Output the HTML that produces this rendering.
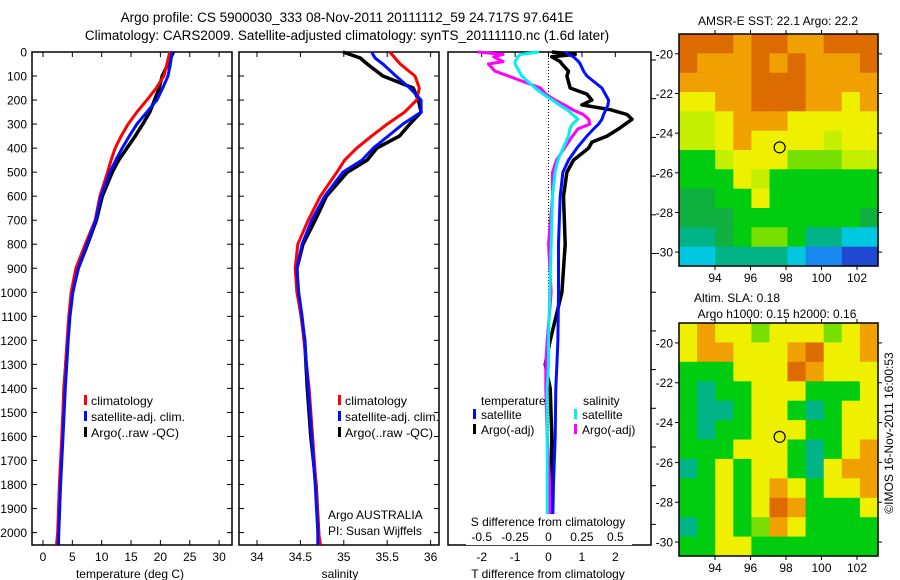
<!DOCTYPE html>
<html><head><meta charset="utf-8"><style>
body{margin:0;background:#fff;}
svg{display:block;font-family:"Liberation Sans",sans-serif;}
</style></head><body>
<svg id="c" width="900" height="580" viewBox="0 0 900 580" xmlns="http://www.w3.org/2000/svg">
<text x="347" y="22" font-size="13.5" text-anchor="middle">Argo profile: CS 5900030_333 08-Nov-2011 20111112_59 24.717S 97.641E</text>
<text x="347" y="40" font-size="13.5" text-anchor="middle">Climatology: CARS2009. Satellite-adjusted climatology: synTS_20111110.nc (1.6d later)</text>
<g id="g"></g>
</svg>
<script>
// ---- data ----
const depthsT = [0,50,100,150,200,250,300,350,400,450,500,600,700,800,900,1000,1100,1200,1400,1600,1800,2000,2050];
const tempClim = [21.6,21.1,20.6,19.3,17.7,16.0,14.5,13.3,12.3,11.6,11.0,9.7,8.9,7.2,5.6,4.8,4.4,4.1,3.6,3.2,2.8,2.5,2.3];
const tempSat  = [22.0,21.7,21.3,20.4,19.4,17.7,16.0,14.7,13.5,12.4,11.4,9.9,9.0,7.5,6.0,5.1,4.6,4.3,3.8,3.4,3.0,2.7,2.6];
const tempArgo = [22.2,21.3,20.3,19.8,19.0,18.2,17.0,15.7,14.3,12.9,11.8,10.1,9.1,7.6,6.0,5.0,4.5,4.2,3.6,3.3,2.9,2.6,2.6];
const depthsS = [0,25,50,100,150,200,250,300,350,400,450,500,600,700,800,900,1000,1100,1200,1400,1600,1800,2000,2050];
const salClim = [35.53,35.59,35.65,35.82,35.87,35.84,35.70,35.50,35.32,35.15,35.01,34.92,34.73,34.59,34.47,34.44,34.46,34.51,34.54,34.60,34.64,34.68,34.71,34.73];
const salSat  = [35.32,35.36,35.45,35.60,35.76,35.89,35.89,35.68,35.51,35.34,35.21,34.99,34.78,34.63,34.52,34.46,34.48,34.52,34.55,34.59,34.63,34.67,34.70,34.70];
const salArgo = [34.99,35.19,35.27,35.45,35.80,35.86,35.89,35.76,35.64,35.38,35.27,35.04,34.80,34.67,34.53,34.46,34.47,34.51,34.55,34.58,34.62,34.68,34.71,34.71];
const diffDepths = [0,10,20,40,50,80,100,150,175,200,220,240,260,280,300,320,350,375,400,450,500,600,800,1000,1200,1300,1400,1600,1800,2000,2040];
const tDiffSat  = [0.5,0.6,0.75,0.9,0.95,1.05,1.15,1.6,1.7,1.8,1.78,1.72,1.65,1.6,1.5,1.35,1.15,1.0,0.85,0.6,0.43,0.35,0.3,0.3,0.28,0.25,0.22,0.2,0.15,0.12,0.1];
const tDiffArgo = [0.1,0.8,0.1,0.35,0.4,0.6,0.55,0.65,1.15,1.3,1.0,1.85,2.35,2.5,2.3,2.1,1.75,1.3,1.2,0.75,0.55,0.45,0.5,0.4,0.05,-0.1,0.05,0.1,0.08,0.05,0.05];
const sDiffSat  = [-0.07,-0.21,-0.23,-0.25,-0.25,-0.22,-0.2,-0.1,-0.04,0.03,0.08,0.14,0.18,0.22,0.18,0.16,0.15,0.13,0.11,0.07,0.05,0.03,0.02,0.01,0.0,0.0,-0.01,-0.01,-0.01,-0.01,-0.01];
const sDiffArgo = [-0.53,-0.34,-0.41,-0.34,-0.45,-0.4,-0.3,-0.06,-0.02,0.05,0.12,0.18,0.26,0.3,0.31,0.22,0.18,0.15,0.12,0.06,0.03,0.03,0.0,0.02,-0.01,-0.02,-0.02,-0.01,0.01,0.01,0.01];
const depthTicks = [0,100,200,300,400,500,600,700,800,900,1000,1100,1200,1300,1400,1500,1600,1700,1800,1900,2000];
const tempTicks = [0,5,10,15,20,25,30];
const salTicks = [34,34.5,35,35.5,36];
const tDiffTicks = [-2,-1,0,1,2];
const sDiffTicks = [-0.5,-0.25,0,0.25,0.5];
const sDiffTickLabels = ["-0.5","-0.25","0","0.25","0.5"];
const latTicks = [-20,-22,-24,-26,-28,-30];
const lonTicks = [94,96,98,100,102];
const argoLon = 97.641, argoLat = -24.717;
// map grids (rows north->south, cols west->east), colour class codes
const sstGrid = ["OOOoOOooOOO","OoooOoOoooO","ooooOOOoooo","YYooOOOooYo","yyYoooYYYYY","yyYoYYYYyYY","GGyYYYLLLyy","GGGYyGGGGGG","ggGGYGGGGGG","gggGGGGGGGg","TTgGLLGTTCC","CCTTTTCBBDD"];
const slaGrid = ["YoYYLYYYLYo","YooYYYoOYYo","GGGYYYOoYYY","GTGGYYYGGGY","GTTGYYGTGYY","GTGGYYYGGYY","GGGYYYGTGYo","TGYGYYGTYoo","GGYGYoYGYYo","GGYGYOoGGGY","TGYGLoYGGGG","GGYYGGGGGGG"];
const palette = {O:"#dc6c00",o:"#f0a000",Y:"#eef000",y:"#c4f000",L:"#78e000",G:"#00cc10",g:"#10b040",T:"#00b488",C:"#00c8e0",B:"#1888f0",D:"#2048d0"};

// ---- helpers ----
const NS="http://www.w3.org/2000/svg";
const G=document.getElementById('g');
function mk(tag,attrs,parent){const e=document.createElementNS(NS,tag);for(const k in attrs)e.setAttribute(k,attrs[k]);(parent||G).appendChild(e);return e;}
const Y0=52, YS=0.2403, YB=545;
const yD=d=>Y0+d*YS;
const xT=v=>43+v*5.87;
const xS=v=>257+(v-34)*86.8;
const xTd=v=>548.5+v*33.4;
const xSd=v=>548.5+v*4*33.4;
function line(xs,ys,fx,color,name,w){
  const pts=xs.map((v,i)=>fx(v).toFixed(1)+','+yD(ys[i]).toFixed(1)).join(' ');
  const p=mk('polyline',{points:pts,fill:'none',stroke:color,'stroke-width':w||3,'stroke-linejoin':'round'});
  
  
}
function text(x,y,s,opts){const t=mk('text',Object.assign({x:x,y:y,'font-size':12},opts||{}));t.textContent=s;return t;}
function frame(x1,x2,name){
  const r=mk('rect',{x:x1,y:Y0,width:x2-x1,height:YB-Y0,fill:'none',stroke:'#000','stroke-width':1.5});
  
  
}
function xticks(ticks,fx,labels,name){
  ticks.forEach((v,i)=>{const x=fx(v);
    mk('line',{x1:x,x2:x,y1:Y0,y2:Y0+5,stroke:'#000'});
    mk('line',{x1:x,x2:x,y1:YB,y2:YB-5,stroke:'#000'});
    if(labels){const t=text(x,561,labels[i],{'text-anchor':'middle'});
      
      }
  });
}
function yticks(x1,x2){depthTicks.forEach(d=>{const y=yD(d);
  mk('line',{x1:x1,x2:x1+5,y1:y,y2:y,stroke:'#000'});
  mk('line',{x1:x2,x2:x2-5,y1:y,y2:y,stroke:'#000'});});}
function legendBar(x,y,c){mk('rect',{x:x,y:y-10,width:3,height:10,fill:c});}
const legendItems=[['climatology','#f00',405,62],['satellite-adj. clim.','#0010ff',421,94],['Argo(..raw -QC)','#000',437,88]];

// ---- panel 1: temperature ----
frame(32,232,'temperature-panel');
yticks(32,232);
depthTicks.forEach(d=>{const t=text(27,yD(d)+4.5,String(d),{'text-anchor':'end'});
  
  });
xticks(tempTicks,xT,tempTicks.map(String),'temperature-tick-label');
line(tempArgo,depthsT,xT,'#000','temperature-argo-line',3.5);
line(tempClim,depthsT,xT,'#f00','temperature-climatology-line');
line(tempSat,depthsT,xT,'#0010ff','temperature-satellite-line');
{const t=text(130,578,'temperature (deg C)',{'text-anchor':'middle'});}
legendItems.forEach(a=>{legendBar(84,a[2],a[1]);const t=text(91,a[2],a[0],{textLength:a[3],lengthAdjust:'spacingAndGlyphs'});});

// ---- panel 2: salinity ----
frame(239,439,'salinity-panel');
yticks(239,439);
xticks(salTicks,xS,salTicks.map(String),'salinity-tick-label');
line(salArgo,depthsS,xS,'#000','salinity-argo-line',3.5);
line(salClim,depthsS,xS,'#f00','salinity-climatology-line');
line(salSat,depthsS,xS,'#0010ff','salinity-satellite-line');
{const t=text(340,578,'salinity',{'text-anchor':'middle'});}
legendItems.forEach(a=>{legendBar(338,a[2],a[1]);const t=text(345,a[2],a[0],{textLength:a[3],lengthAdjust:'spacingAndGlyphs'});});
{const t=text(328,519,'Argo AUSTRALIA');}
{const t=text(328,535,'PI: Susan Wijffels');}

// ---- panel 3: differences ----
frame(448,651,'difference-panel');
tDiffTicks.forEach(v=>{const x=xTd(v);mk('line',{x1:x,x2:x,y1:Y0,y2:Y0+5,stroke:'#000'});mk('line',{x1:x,x2:x,y1:YB,y2:YB-5,stroke:'#000'});
  const t=text(x,561,String(v),{'text-anchor':'middle'});});
for(let y=60;y<YB;y+=38.7)mk('line',{x1:651,x2:656,y1:y,y2:y,stroke:'#000'});
mk('line',{x1:xTd(0),x2:xTd(0),y1:Y0,y2:YB,stroke:'#000','stroke-dasharray':'1,2'});
line(tDiffArgo,diffDepths,xTd,'#000','t-diff-argo-line',3.5);
line(tDiffSat,diffDepths,xTd,'#0010ff','t-diff-satellite-line');
line(sDiffArgo,diffDepths,xSd,'#ff00ff','s-diff-argo-line');
line(sDiffSat,diffDepths,xSd,'#00f0f0','s-diff-satellite-line');
mk('rect',{x:466,y:514,width:166,height:31,fill:'#fff'});
{const t=text(548,526,'S difference from climatology',{'text-anchor':'middle'});}
sDiffTicks.forEach((v,i)=>{const t=text(xSd(v),541,sDiffTickLabels[i],{'text-anchor':'middle'});});
{const t=text(548,578,'T difference from climatology',{'text-anchor':'middle'});}
{const t=text(481,405,'temperature');}
{const t=text(583,405,'salinity');}
[[473,'#0010ff','satellite',419],[473,'#000','Argo(-adj)',434],[574,'#00f0f0','satellite',419],[574,'#ff00ff','Argo(-adj)',434]].forEach(a=>{legendBar(a[0],a[3],a[1]);const t=text(a[0]+8,a[3],a[2]);});

// ---- maps ----
const MX0=679,MX1=878;
const lonX=l=>715+(l-94)*17.75;
function drawMap(grid,top,bottom,name){
  const lat0=-19,lat1=-30.7;
  const latY=l=>top+(l-lat0)/(lat1-lat0)*(bottom-top);
  const rows=grid.length, cols=grid[0].length;
  const cw=(MX1-MX0)/cols, ch=(bottom-top)/rows;
  const g=mk('g',{});
  
  
  grid.forEach((row,r)=>{[...row].forEach((c,k)=>{
    const cell=mk('rect',{x:(MX0+k*cw).toFixed(1),y:(top+r*ch).toFixed(1),width:(cw+0.6).toFixed(1),height:(ch+0.6).toFixed(1),fill:palette[c]},g);
    
    
  });});
  mk('rect',{x:MX0,y:top,width:MX1-MX0,height:bottom-top,fill:'none',stroke:'#000','stroke-width':1.5});
  latTicks.forEach(l=>{const y=latY(l);mk('line',{x1:MX1,x2:MX1+4,y1:y,y2:y,stroke:'#000'});mk('line',{x1:MX0-4,x2:MX0,y1:y,y2:y,stroke:'#000'});
    const t=text(673,y+4.5,String(l),{'text-anchor':'end'});});
  lonTicks.forEach(l=>{const x=lonX(l);mk('line',{x1:x,x2:x,y1:top-4,y2:top,stroke:'#000'});mk('line',{x1:x,x2:x,y1:bottom,y2:bottom+4,stroke:'#000'});
    const t=text(x,bottom+16,String(l),{'text-anchor':'middle'});});
  const c=mk('circle',{cx:lonX(argoLon),cy:latY(argoLat),r:5.5,fill:'none',stroke:'#000','stroke-width':1.2});
  
  
}
drawMap(sstGrid,34,266,'sst-map');
drawMap(slaGrid,323,556,'sla-map');
{const t=text(778,25,'AMSR-E SST: 22.1 Argo: 22.2',{'text-anchor':'middle'});}
{const t=text(737,302,'Altim. SLA: 0.18',{'text-anchor':'middle'});}
{const t=text(777,318,'Argo h1000: 0.15 h2000: 0.16',{'text-anchor':'middle'});}
{const t=text(0,0,'©IMOS 16-Nov-2011 16:00:53',{'text-anchor':'middle',transform:'translate(893,433) rotate(-90)'});}
</script>
</body></html>
